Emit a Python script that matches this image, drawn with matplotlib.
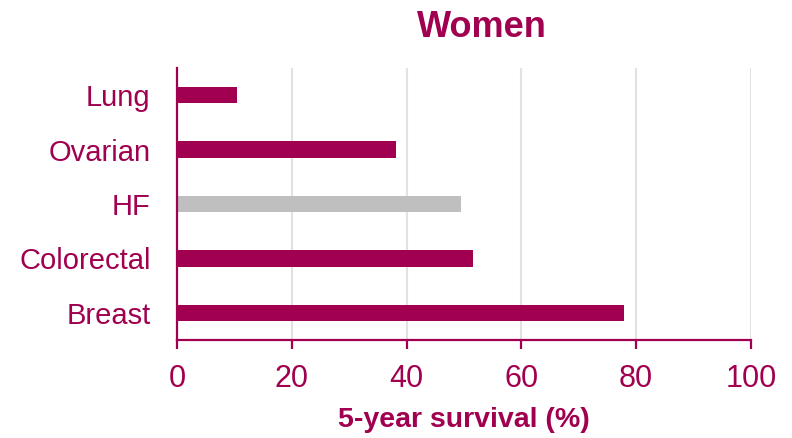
import matplotlib.pyplot as plt

plt.rcParams['font.family'] = ['Liberation Sans', 'DejaVu Sans']

# five-year survival, women
sites = ['Breast', 'Colorectal', 'HF', 'Ovarian', 'Lung']
survival = [77.8, 51.5, 49.5, 38.2, 10.4]
ticks = [0, 20, 40, 60, 80, 100]

wine = '#A0004F'
grey = '#BFBFBF'
colors = [grey if s == 'HF' else wine for s in sites]

fig = plt.figure(figsize=(7.92, 4.38), dpi=100)
ax = fig.add_axes([0.2235, 0.2237, 0.7247, 0.621])

ax.barh(range(len(sites)), survival, height=0.3, color=colors, zorder=3)

ax.set_xlim(0, 100)
ax.set_ylim(-0.5, len(sites) - 0.5)
ax.set_xticks(ticks)
ax.set_yticks(range(len(sites)))
ax.set_yticklabels(sites)

ax.grid(axis='x', color='#E2E2E2', linewidth=1.5, zorder=0)
ax.set_axisbelow(True)

for side in ['top', 'right']:
    ax.spines[side].set_visible(False)
for side in ['left', 'bottom']:
    ax.spines[side].set_color(wine)
    ax.spines[side].set_linewidth(1.6)
    ax.spines[side].set_zorder(4)

ax.tick_params(axis='x', colors=wine, labelsize=22, length=6.5, width=1.6, pad=11)
ax.tick_params(axis='y', colors=wine, labelsize=21, length=0, pad=19)

ax.set_xlabel('5-year survival (%)', color=wine, fontsize=20.5, fontweight='bold', labelpad=9)
ax.set_title('Women', color=wine, fontsize=26, fontweight='bold', x=0.531, pad=22)

fig.savefig('out.png', dpi=100)
